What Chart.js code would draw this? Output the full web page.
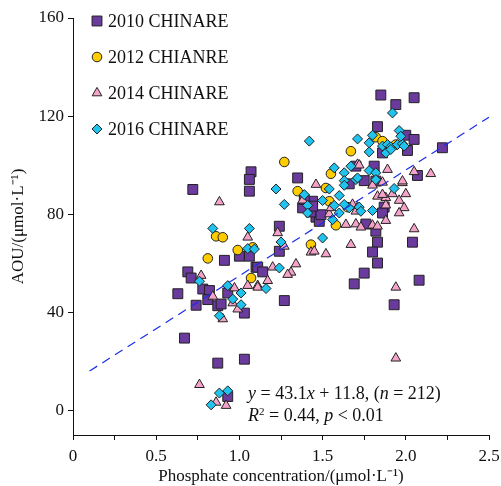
<!DOCTYPE html>
<html>
<head>
<meta charset="utf-8">
<script src="https://cdn.jsdelivr.net/npm/chart.js@4"></script>
<style>
  html, body { margin: 0; padding: 0; background: #fff; }
  #wrap { position: relative; width: 501px; height: 486px; }
  .note { position: absolute; font-family: 'Liberation Serif', 'Times New Roman', serif; font-size: 18px; line-height: 18px; color: #111; white-space: nowrap; }
  .note sup { font-size: 11px; vertical-align: 6px; line-height: 0; }
</style>
</head>
<body>
<div id="wrap">
  <canvas id="chart" width="501" height="486"></canvas>
  <div class="note" style="left:248px;top:384px"><i>y</i> = 43.1<i>x</i> + 11.8, (<i>n</i> = 212)</div>
  <div class="note" style="left:248px;top:406px"><i>R</i><sup>2</sup> = 0.44, <i>p</i> &lt; 0.01</div>
</div>
<script>
// values: phosphate (umol/L) vs AOU (umol/L)
const x2010 = [0.72, 1.07, 1.06, 1.06, 0.91, 1.00, 1.06, 0.69, 1.10, 0.71, 0.78, 0.82, 0.63, 0.93, 0.81, 0.74,
  0.87, 0.89, 1.03, 0.67, 0.87, 1.03, 0.93, 1.35, 1.66, 1.44, 1.38, 1.46, 1.48, 1.24, 1.24, 1.11, 1.14, 1.27,
  1.39, 1.43, 1.49, 1.44, 1.76, 1.82, 1.83, 1.80, 1.83, 1.75, 1.69, 1.87, 1.86, 2.04, 2.08, 1.93, 1.85, 2.05,
  1.94, 1.83, 2.00, 2.05, 2.01, 1.86, 2.22, 1.70, 1.81, 2.07, 1.75, 1.82];
const y2010 = [90.1, 97.3, 94.2, 89.4, 61.2, 62.9, 62.9, 56.5, 58.4, 54.0, 49.5, 48.9, 47.6, 47.9, 45.2, 42.9,
  42.7, 43.4, 39.7, 29.5, 19.3, 20.9, 5.7, 94.8, 92.4, 85.3, 82.6, 78.8, 77.1, 75.1, 64.9, 58.4, 56.5, 44.8,
  86.0, 80.9, 79.8, 83.3, 76.0, 73.1, 68.6, 64.6, 60.1, 56.0, 51.6, 82.9, 80.5, 68.6, 53.1, 43.1, 128.6, 127.5,
  124.7, 115.7, 112.2, 110.5, 106.0, 105.0, 107.1, 99.6, 99.6, 95.8, 93.7, 93.5];

const x2012 = [0.86, 0.90, 0.99, 1.08, 0.81, 1.07, 1.67, 1.27, 1.55, 1.52, 1.35, 1.54, 1.65, 1.58, 1.43, 1.82, 1.86, 1.94];
const y2012 = [71.0, 70.6, 65.4, 66.5, 62.0, 54.0, 105.7, 101.3, 96.5, 90.7, 89.4, 85.3, 82.9, 75.5, 67.6, 111.4, 109.8, 108.4];

const x2014 = [0.88, 1.05, 0.77, 1.05, 1.11, 0.97, 0.84, 0.96, 0.99, 0.90, 0.76, 0.86, 0.92, 1.71, 1.46, 1.38,
  1.68, 1.71, 1.54, 1.64, 1.70, 1.23, 1.27, 1.43, 1.45, 1.52, 1.67, 1.34, 1.20, 1.31, 1.29, 1.17, 1.11, 1.73,
  1.80, 1.83, 1.80, 1.83, 1.88, 1.92, 2.00, 1.96, 1.99, 1.96, 1.98, 1.88, 1.88, 2.05, 1.94, 1.94, 1.86, 1.72,
  1.89, 2.05, 2.15, 1.98, 1.86, 1.55, 1.70];
const y2014 = [85.0, 70.6, 55.0, 50.9, 50.9, 49.9, 46.5, 43.8, 41.3, 37.3, 10.5, 3.3, 2.0, 100.3, 92.1, 85.7,
  84.0, 82.9, 80.1, 75.8, 76.0, 72.4, 66.9, 64.5, 64.9, 63.8, 67.6, 59.7, 58.4, 56.3, 55.4, 52.9, 50.2, 74.7,
  75.5, 75.1, 91.8, 87.3, 86.7, 88.3, 88.3, 85.6, 82.6, 80.5, 92.8, 83.7, 77.4, 74.0, 50.2, 21.3, 88.0, 100.0,
  98.2, 97.3, 96.5, 93.5, 93.0, 82.6, 81.2];

const x2016 = [0.84, 1.06, 1.05, 1.09, 0.76, 0.93, 1.01, 0.96, 1.01, 0.88, 0.88, 0.93, 0.83, 1.42, 1.71, 1.57,
  1.67, 1.63, 1.63, 1.54, 1.70, 1.22, 1.39, 1.60, 1.50, 1.27, 1.41, 1.57, 1.41, 1.56, 1.60, 1.66, 1.25, 1.50,
  1.24, 1.16, 1.80, 1.93, 1.92, 1.96, 1.80, 1.78, 1.78, 1.86, 1.89, 1.91, 1.95, 1.98, 1.97, 1.88, 1.91, 1.99,
  1.78, 1.82, 1.71, 1.82, 1.63, 1.63, 1.72, 1.73];
const y2016 = [74.2, 74.2, 66.0, 65.8, 52.7, 50.9, 47.9, 45.4, 43.1, 38.6, 7.1, 8.0, 2.3, 109.8, 110.7, 98.9,
  99.6, 96.9, 93.7, 90.3, 94.1, 90.3, 88.0, 87.6, 85.6, 84.0, 83.6, 83.6, 80.5, 77.8, 80.5, 82.6, 68.7, 70.3,
  58.1, 49.7, 81.5, 90.5, 121.3, 114.1, 112.2, 109.1, 105.4, 107.8, 108.4, 107.5, 108.4, 108.7, 111.8, 105.0, 106.4, 107.8,
  97.8, 96.9, 94.8, 94.1, 91.8, 84.0, 82.9, 81.2];

// linear fit shown on the figure
const fitSlope = 43.1;
const fitIntercept = 11.8;
const fitRange = [0.1, 2.5];

const xTicks = [0, 0.25, 0.5, 0.75, 1.0, 1.25, 1.5, 1.75, 2.0, 2.25, 2.5];
const yTicks = [0, 40, 80, 120, 160];

function pts(xs, ys) {
  return xs.map((x, i) => ({ x: x, y: ys[i] }));
}

const serif = "'Liberation Serif', 'Times New Roman', serif";
Chart.defaults.font.family = serif;
Chart.defaults.font.size = 17;
Chart.defaults.color = '#111';

const series = [
  { label: '2010 CHINARE', data: pts(x2010, y2010), pointStyle: 'rect', pointRadius: 7, backgroundColor: '#6a3a9c', order: 4 },
  { label: '2012 CHIANRE', data: pts(x2012, y2012), pointStyle: 'circle', pointRadius: 4.8, backgroundColor: '#ffcc00', order: 3 },
  { label: '2014 CHINARE', data: pts(x2014, y2014), pointStyle: 'triangle', pointRadius: 5.6, backgroundColor: '#f5a3c8', order: 2 },
  { label: '2016 CHINARE', data: pts(x2016, y2016), pointStyle: 'rectRot', pointRadius: 5, backgroundColor: '#1fc3ee', order: 1 }
];
series.forEach(s => { s.borderColor = '#222'; s.borderWidth = 1; s.pointHoverRadius = s.pointRadius; });

// legend drawn inside the plot, top left
const insideLegend = {
  id: 'insideLegend',
  afterDraw(chart) {
    const ctx = chart.ctx;
    series.forEach((s, i) => {
      const y = 21 + i * 36;
      ctx.save();
      ctx.fillStyle = s.backgroundColor;
      ctx.strokeStyle = s.borderColor;
      ctx.lineWidth = 1;
      Chart.helpers.drawPoint(ctx, { pointStyle: s.pointStyle, radius: s.pointRadius, borderWidth: 1, rotation: 0 }, 97, y);
      ctx.fillStyle = '#111';
      ctx.font = '18px ' + serif;
      ctx.textBaseline = 'middle';
      ctx.fillText(s.label, 108, y + 1);
      ctx.restore();
    });
  }
};

new Chart(document.getElementById('chart'), {
  type: 'scatter',
  data: {
    datasets: [
      {
        label: 'fit',
        data: fitRange.map(x => ({ x: x, y: fitSlope * x + fitIntercept })),
        showLine: true,
        borderColor: '#1a2ee6',
        borderWidth: 1.2,
        borderDash: [9, 6],
        pointRadius: 0,
        fill: false,
        order: 0
      }
    ].concat(series)
  },
  options: {
    responsive: false,
    animation: false,
    layout: { padding: { top: 18, right: 12, left: 0, bottom: 0 } },
    plugins: { legend: { display: false }, tooltip: { enabled: false } },
    scales: {
      x: {
        type: 'linear',
        min: 0,
        max: 2.5,
        afterBuildTicks: s => { s.ticks = xTicks.map(v => ({ value: v })); },
        afterFit: s => { s.height = 51; s.paddingLeft = 0; s.paddingRight = 0; },
        grid: { drawOnChartArea: false, drawTicks: true, tickLength: 5, color: '#111' },
        border: { display: true, color: '#111', width: 1 },
        ticks: {
          autoSkip: false,
          maxRotation: 0,
          padding: 6,
          callback: v => (v % 0.5 === 0 ? (v === 0 ? '0' : v.toFixed(1)) : '')
        },
        title: { display: true, text: 'Phosphate concentration/(μmol·L⁻¹)', font: { size: 17, lineHeight: 1.0 }, padding: { top: 0, bottom: 1 } }
      },
      y: {
        type: 'linear',
        min: -10,
        max: 160,
        afterBuildTicks: s => { s.ticks = yTicks.map(v => ({ value: v })); },
        afterFit: s => { s.width = 73; },
        grid: { drawOnChartArea: false, drawTicks: true, tickLength: 5, color: '#111' },
        border: { display: true, color: '#111', width: 1 },
        ticks: { padding: 4 },
        title: { display: true, text: 'AOU/(μmol·L⁻¹)', font: { size: 17, lineHeight: 1.0 }, padding: { top: 10, bottom: 0 } }
      }
    }
  },
  plugins: [insideLegend]
});
</script>
</body>
</html>
